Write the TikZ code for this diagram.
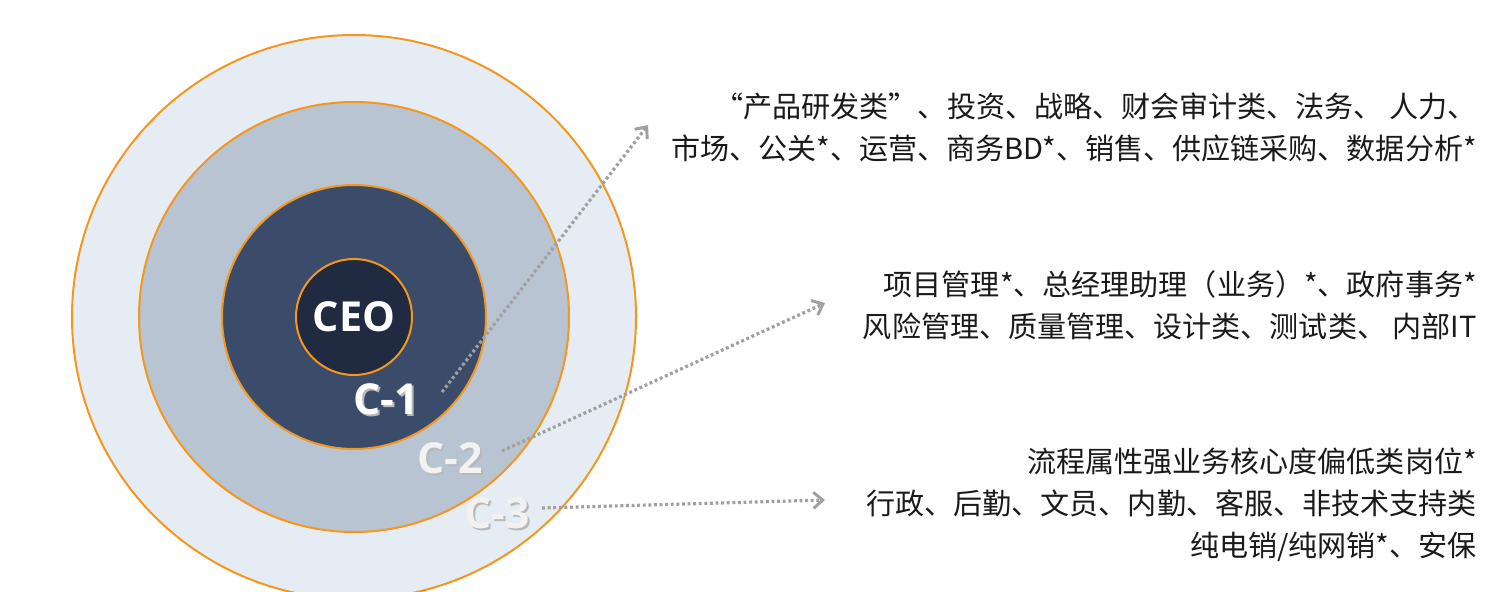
\documentclass[tikz,border=0pt]{standalone}
\usepackage{fontspec}
\newfontfamily\cjkfont{Noto Sans CJK SC}
\newfontfamily\labfont{Open Sans}
\usepackage{tikz}
\usetikzlibrary{arrows.meta,positioning}

\definecolor{ringorange}{RGB}{245,150,30}
\definecolor{ringouter}{RGB}{230,236,244}
\definecolor{ringmid}{RGB}{184,196,209}
\definecolor{ringinner}{RGB}{58,76,106}
\definecolor{ceofill}{RGB}{32,42,64}
\definecolor{linkgray}{RGB}{160,160,160}
\definecolor{textblack}{RGB}{26,26,26}

\newcommand{\shadowed}[1]{\makebox[0pt][l]{\hspace{1.3pt}\raisebox{-1.3pt}{\textcolor{black!28}{#1}}}#1}

\begin{document}
\begin{tikzpicture}[x=0.75pt,y=-0.75pt,
    ring/.style={draw=ringorange,line width=1.5pt},
    clabel/.style={font=\labfont\bfseries\fontsize{32pt}{34pt}\selectfont,inner sep=0pt},
    desc/.style={font=\cjkfont\fontsize{21.8pt}{31.5pt}\selectfont,align=right,anchor=east,text=textblack,inner sep=0pt},
    link/.style={draw=linkgray,line width=2.4pt,dash pattern=on 2.2pt off 2pt,
      -{Straight Barb[length=7pt,width=12pt,line width=2.2pt]}}]
    \clip (0,0) rectangle (1488,592);
    \coordinate (ctr) at (354,317);
    % rings
    \draw[ring,fill=ringouter] (ctr) circle (282);
    \draw[ring,fill=ringmid] (ctr) circle (215);
    \draw[ring,fill=ringinner] (ctr) circle (132);
    \node[ring,circle,fill=ceofill,minimum size=87pt,inner sep=0pt,text=white,
      font=\labfont\bfseries\fontsize{31pt}{33pt}\selectfont] (ceo) at (ctr) {CEO};
    % level labels
    \node[clabel,text=white] (c1) at (386,400) {\shadowed{C-1}};
    \node[clabel,text=white!95!black] (c2) at (450,459) {\shadowed{C-2}};
    \node[clabel,text=white!95!black] (c3) at (497,514) {\shadowed{C-3}};
    % descriptions
    \node[desc] (d1) at (1477,127) {“产品研发类”、投资、战略、财会审计类、法务、 人力、\\市场、公关*、运营、商务BD*、销售、供应链采购、数据分析*};
    \node[desc] (d2) at (1477,305) {项目管理*、总经理助理（业务）*、政府事务*\\风险管理、质量管理、设计类、测试类、 内部IT};
    \node[desc] (d3) at (1477,505) {流程属性强业务核心度偏低类岗位*\\行政、后勤、文员、内勤、客服、非技术支持类\\纯电销/纯网销*、安保};
    % arrows
    \coordinate (s1) at (442,392);
    \coordinate (s2) at (502,451);
    \coordinate (s3) at (542,508);
    \coordinate (e1) at (648,125);
    \coordinate (e2) at (825,303);
    \coordinate (e3) at (825,500);
    \draw[link] (s1) -- (e1);
    \draw[link] (s2) -- (e2);
    \draw[link] (s3) -- (e3);
  \end{tikzpicture}
\end{document}
